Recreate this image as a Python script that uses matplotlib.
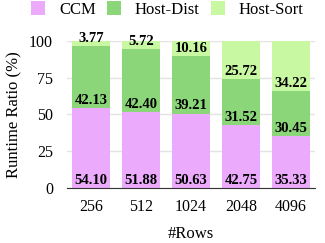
import matplotlib
matplotlib.use("Agg")
import matplotlib.pyplot as plt
import numpy as np

plt.rcParams['font.family'] = ['Liberation Serif', 'DejaVu Serif']

categories = ["256", "512", "1024", "2048", "4096"]
ccm = [54.10, 51.88, 50.63, 42.75, 35.33]
host_dist = [42.13, 42.40, 39.21, 31.52, 30.45]
host_sort = [3.77, 5.72, 10.16, 25.72, 34.22]
series_names = ["CCM", "Host-Dist", "Host-Sort"]
colors = ["#EBAAFB", "#8CD67A", "#C8F8A2"]

fig = plt.figure(figsize=(3.25, 2.43), dpi=100)
ax = fig.add_axes([0.206, 0.226, 0.763, 0.606])

x = np.arange(len(categories))
bottom = np.zeros(len(categories))
for vals, name, c in zip([ccm, host_dist, host_sort], series_names, colors):
    vals = np.array(vals)
    ax.bar(x, vals, 0.76, bottom=bottom, color=c, label=name, zorder=2)
    for xi, b, v in zip(x, bottom, vals):
        ax.text(xi, b + 0.8, f"{v:.2f}", ha='center', va='bottom',
                fontsize=10.5, fontweight='bold', zorder=3)
    bottom += vals

ax.set_xlim(-0.48, 4.48)
ax.set_ylim(0, 100)
ax.set_yticks([0, 25, 50, 75, 100])
ax.set_xticks(x)
ax.set_xticklabels(categories)
ax.tick_params(axis='both', length=0, labelsize=11.5)
ax.tick_params(axis='x', pad=8)
ax.tick_params(axis='y', pad=10)
ax.yaxis.grid(True, color='#E3E3E3', linewidth=1, zorder=0)
for s in ['top', 'right', 'left']:
    ax.spines[s].set_visible(False)
ax.spines['bottom'].set_color('#333333')
ax.spines['bottom'].set_zorder(4)
ax.set_ylabel("Runtime Ratio (%)", fontsize=12, labelpad=5)
ax.set_xlabel("#Rows", fontsize=12, labelpad=7.5)

fig.legend(loc='upper left', bbox_to_anchor=(31.5 / 325, 1 - 1 / 243), ncol=3,
           frameon=False, fontsize=12, handlelength=0.8, handleheight=0.9,
           columnspacing=0.7, handletextpad=0.85, borderpad=0, borderaxespad=0)

fig.savefig("out.png", dpi=100)
